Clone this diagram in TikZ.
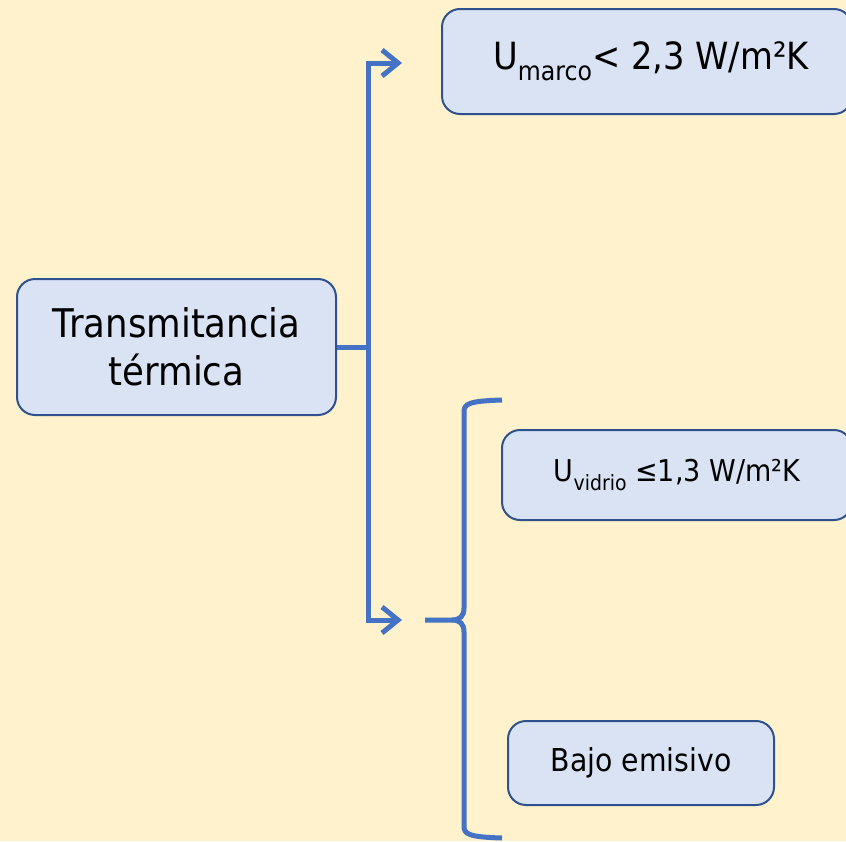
\documentclass[tikz,border=0pt]{standalone}
\usepackage{fontspec}
\setmainfont[FakeStretch=0.9]{DejaVu Sans}
\usetikzlibrary{arrows.meta}
\definecolor{bgc}{HTML}{FFF2CC}
\definecolor{boxfill}{HTML}{DAE3F3}
\definecolor{boxline}{HTML}{2F528F}
\definecolor{conn}{HTML}{4472C4}
\newcommand{\mysub}[1]{\raisebox{-0.28em}{\scalebox{0.7}{#1}}}
\tikzset{
  box/.style={draw=boxline, line width=2pt, fill=boxfill, rounded corners=18pt, inner sep=0pt, align=center, text=black},
  link/.style={draw=conn, line width=5pt},
  tip/.style={-{Straight Barb[length=16pt,width=26pt]}},
}
\begin{document}
\begin{tikzpicture}[x=1pt,y=-1pt]
\useasboundingbox (0,0) rectangle (846,841);
\fill[bgc] (0,0) rectangle (846,841);
\clip (0,0) rectangle (846,841);
\node[box, minimum width=319pt, minimum height=136pt, font=\fontsize{39.5}{48}\selectfont] (T) at (176.5,347) {Transmitancia\\ térmica};
\node[box, minimum width=410pt, minimum height=105pt, font=\fontsize{37.5}{44}\selectfont] (M) at (647,61.5) {\hspace*{8pt}U\mysub{marco}< 2,3 W/m²K};
\node[box, minimum width=350pt, minimum height=90pt, font=\fontsize{30}{36}\selectfont] (V) at (677,475) {U\mysub{vidrio} ≤1,3 W/m²K};
\node[box, minimum width=266pt, minimum height=84pt, font=\fontsize{31.5}{36}\selectfont] (B) at (641,763) {Bajo emisivo};
\coordinate (j) at (368,347);
\coordinate (a1) at (402,63);
\coordinate (a2) at (402,620);
\coordinate (bs) at (425,620);
\coordinate (bt) at (502,400);
\coordinate (bb) at (502,838);
\draw[link] (T.east) -- (j);
\draw[link, tip] (j) |- (a1);
\draw[link, tip] (j) |- (a2);
\draw[link, line cap=butt] (bs) -- (452,620) .. controls (460,620) and (464,616) .. (464,608) -- (464,412) .. controls (464,404) and (468,401) .. (bt);
\draw[link, line cap=butt] (452,620) .. controls (460,620) and (464,624) .. (464,632) -- (464,826) .. controls (464,834) and (468,837) .. (bb);
\end{tikzpicture}
\end{document}
